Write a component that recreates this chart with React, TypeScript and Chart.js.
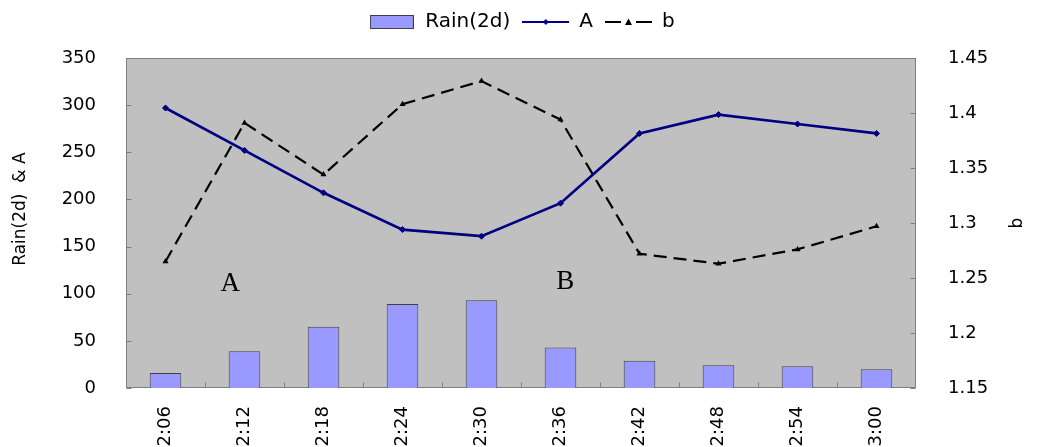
import React, { useEffect, useRef } from 'react';
import { Chart, registerables } from 'chart.js';

Chart.register(...registerables);

// ---------- data ----------
const categories = ['2:06', '2:12', '2:18', '2:24', '2:30', '2:36', '2:42', '2:48', '2:54', '3:00'];
const rainValues = [16, 39, 65, 89, 93, 43, 29, 24, 23, 20];
const aValues = [297, 252, 207, 168, 161, 196, 270, 290, 280, 270];
const bValues = [1.265, 1.391, 1.344, 1.408, 1.429, 1.394, 1.272, 1.263, 1.276, 1.297];

const seriesNames = ['Rain(2d)', 'A', 'b'];
const leftAxisTitle = 'Rain(2d)  & A';
const rightAxisTitle = 'b';

const leftMin = 0;
const leftMax = 350;
const leftStep = 50;
const rightMin = 1.15;
const rightMax = 1.45;
const rightStep = 0.05;

// in-plot text labels: category position and left-axis value
const noteTexts = ['A', 'B'];
const noteCategoryPos = [0.82, 5.06];
const noteLeftValue = [110, 112];

// ---------- styles ----------
const FONT = '"DejaVu Sans", "Liberation Sans", Arial, sans-serif';
const PLOT_BG = '#C0C0C0';
const FRAME = '#808080';
const BAR_FILL = '#9999FF';
const BAR_BORDER = '#404040';
const A_COLOR = '#000080';
const B_COLOR = '#000000';
const B_DASH = [13, 7];

function makeBarIcon(): HTMLCanvasElement {
  const c = document.createElement('canvas');
  c.width = 44;
  c.height = 14;
  const g = c.getContext('2d')!;
  g.fillStyle = BAR_FILL;
  g.fillRect(0.5, 0.5, 43, 13);
  g.strokeStyle = BAR_BORDER;
  g.lineWidth = 1;
  g.strokeRect(0.5, 0.5, 43, 13);
  return c;
}

function makeLineIcon(kind: 'A' | 'b'): HTMLCanvasElement {
  const c = document.createElement('canvas');
  c.width = 47;
  c.height = 10;
  const g = c.getContext('2d')!;
  const cy = 5;
  if (kind === 'A') {
    g.strokeStyle = A_COLOR;
    g.lineWidth = 2;
    g.beginPath();
    g.moveTo(0, cy);
    g.lineTo(47, cy);
    g.stroke();
    g.fillStyle = A_COLOR;
    g.beginPath();
    g.moveTo(23.5, cy - 3);
    g.lineTo(26.5, cy);
    g.lineTo(23.5, cy + 3);
    g.lineTo(20.5, cy);
    g.closePath();
    g.fill();
  } else {
    g.strokeStyle = B_COLOR;
    g.lineWidth = 2;
    g.beginPath();
    g.moveTo(0, cy);
    g.lineTo(16, cy);
    g.moveTo(31, cy);
    g.lineTo(47, cy);
    g.stroke();
    g.fillStyle = B_COLOR;
    g.beginPath();
    g.moveTo(23.5, cy - 3.5);
    g.lineTo(27, cy + 3);
    g.lineTo(20, cy + 3);
    g.closePath();
    g.fill();
  }
  return c;
}

const LEGEND_EXTRA = 16;

const legendSpacer = {
  id: 'legendSpacer',
  beforeLayout(chart: any) {
    const lg = chart.legend;
    if (lg && !lg.__spaced) {
      const orig = lg.fit;
      lg.fit = function () {
        orig.call(this);
        this.height += LEGEND_EXTRA;
      };
      lg.__spaced = true;
    }
  },
};

const framePlugin = {
  id: 'plotFrame',
  beforeDatasetsDraw(chart: any) {
    const { ctx, chartArea } = chart;
    const { left, top, right, bottom } = chartArea;
    ctx.save();
    ctx.fillStyle = PLOT_BG;
    ctx.fillRect(left, top, right - left, bottom - top);
    ctx.strokeStyle = FRAME;
    ctx.lineWidth = 1;
    const l = Math.round(left) + 0.5;
    const r = Math.round(right) - 0.5;
    const t = Math.round(top) + 0.5;
    const b = Math.round(bottom) - 0.5;
    ctx.strokeRect(l, t, r - l, b - t);
    // inner tick marks
    ctx.beginPath();
    const yL = chart.scales.y;
    yL.ticks.forEach((_t: any, i: number) => {
      const py = Math.round(yL.getPixelForTick(i)) + 0.5;
      ctx.moveTo(l, py);
      ctx.lineTo(l + 5, py);
    });
    const yR = chart.scales.y1;
    yR.ticks.forEach((_t: any, i: number) => {
      const py = Math.round(yR.getPixelForTick(i)) + 0.5;
      ctx.moveTo(r, py);
      ctx.lineTo(r - 5, py);
    });
    const xs = chart.scales.x;
    for (let k = 1; k < categories.length; k++) {
      const px = Math.round(xs.getPixelForValue(k - 0.5)) + 0.5;
      ctx.moveTo(px, b);
      ctx.lineTo(px, b - 5);
    }
    ctx.stroke();
    ctx.restore();
  },
  afterDraw(chart: any) {
    const { ctx, chartArea } = chart;
    const xs = chart.scales.x;
    const yL = chart.scales.y;
    ctx.save();
    // notes A / B
    ctx.fillStyle = '#000';
    ctx.font = '27px "Liberation Serif", "Times New Roman", serif';
    ctx.textAlign = 'center';
    ctx.textBaseline = 'middle';
    noteTexts.forEach((txt, i) => {
      ctx.fillText(txt, xs.getPixelForValue(noteCategoryPos[i]), yL.getPixelForValue(noteLeftValue[i]));
    });
    // axis titles, both reading bottom-to-top
    ctx.font = '17px ' + FONT;
    const drawRot = (txt: string, x: number, y: number) => {
      ctx.save();
      ctx.translate(x, y);
      ctx.rotate(-Math.PI / 2);
      ctx.fillText(txt, 0, 0);
      ctx.restore();
    };
    const h = chartArea.bottom - chartArea.top;
    drawRot(leftAxisTitle, 21, chartArea.top + h * 0.458);
    drawRot(rightAxisTitle, chart.width - 25, chartArea.top + h * 0.5);
    ctx.restore();
  },
};

export default function App() {
  const canvasRef = useRef<HTMLCanvasElement | null>(null);

  useEffect(() => {
    const canvas = canvasRef.current;
    if (!canvas) return;
    const icons = [makeBarIcon(), makeLineIcon('A'), makeLineIcon('b')];

    const chart = new Chart(canvas, {
      type: 'bar',
      data: {
        labels: categories,
        datasets: [
          {
            type: 'bar',
            label: seriesNames[0],
            data: rainValues,
            yAxisID: 'y',
            backgroundColor: BAR_FILL,
            borderColor: BAR_BORDER,
            borderWidth: 1,
            barPercentage: 0.4,
            categoryPercentage: 1,
          },
          {
            type: 'line',
            label: seriesNames[1],
            data: aValues,
            yAxisID: 'y',
            borderColor: A_COLOR,
            backgroundColor: A_COLOR,
            borderWidth: 2.7,
            pointStyle: 'rectRot',
            pointRadius: 3,
            pointBorderWidth: 1,
            tension: 0,
            fill: false,
          },
          {
            type: 'line',
            label: seriesNames[2],
            data: bValues,
            yAxisID: 'y1',
            borderColor: B_COLOR,
            backgroundColor: B_COLOR,
            borderWidth: 2.2,
            borderDash: B_DASH,
            pointStyle: 'triangle',
            pointRadius: 3.5,
            pointBorderWidth: 0,
            tension: 0,
            fill: false,
          },
        ],
      },
      options: {
        responsive: false,
        animation: false,
        events: [],
        layout: { padding: 0 },
        plugins: {
          tooltip: { enabled: false },
          legend: {
            display: true,
            position: 'top',
            labels: {
              usePointStyle: true,
              pointStyleWidth: 47,
              padding: 12,
              color: '#000',
              font: { family: FONT, size: 20 },
              generateLabels: () =>
                seriesNames.map((name, i) => ({
                  text: name,
                  pointStyle: icons[i],
                  datasetIndex: i,
                  hidden: false,
                  lineWidth: 0,
                  strokeStyle: 'rgba(0,0,0,0)',
                  fillStyle: 'rgba(0,0,0,0)',
                  fontColor: '#000',
                })),
            },
          },
        },
        scales: {
          x: {
            type: 'category',
            offset: true,
            grid: { display: false },
            border: { display: false },
            ticks: {
              autoSkip: false,
              minRotation: 90,
              maxRotation: 90,
              padding: 10,
              color: '#000',
              font: { family: FONT, size: 18 },
            },
            afterFit: (s: any) => {
              s.height = 59;
            },
          },
          y: {
            type: 'linear',
            position: 'left',
            min: leftMin,
            max: leftMax,
            grid: { display: false },
            border: { display: false },
            ticks: {
              stepSize: leftStep,
              padding: 22,
              color: '#000',
              font: { family: FONT, size: 18 },
            },
            afterFit: (s: any) => {
              s.width = 126;
            },
          },
          y1: {
            type: 'linear',
            position: 'right',
            min: rightMin,
            max: rightMax,
            grid: { display: false },
            border: { display: false },
            ticks: {
              stepSize: rightStep,
              padding: 24,
              color: '#000',
              font: { family: FONT, size: 18 },
              callback: (v: any) => String(Number(Number(v).toFixed(2))),
            },
            afterFit: (s: any) => {
              s.width = 127;
            },
          },
        },
      },
      plugins: [legendSpacer, framePlugin],
    } as any);

    return () => {
      chart.destroy();
    };
  }, []);

  return (
    <div style={{ position: 'absolute', left: 0, top: 0, width: 1043, height: 447, background: '#fff' }}>
      <canvas ref={canvasRef} width={1043} height={447} style={{ display: 'block', width: 1043, height: 447 }} />
    </div>
  );
}
